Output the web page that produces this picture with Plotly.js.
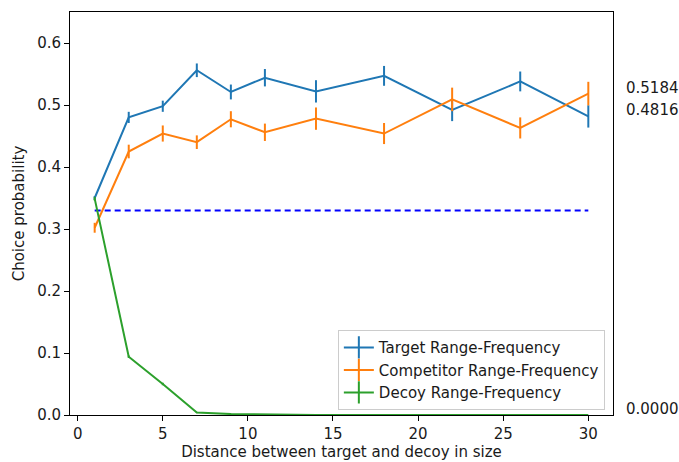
<!DOCTYPE html>
<html>
<head>
<meta charset="utf-8">
<script src="https://cdn.plot.ly/plotly-3.0.1.min.js"></script>
<style>html,body{margin:0;padding:0;background:#fff}#chart{width:679px;height:462px}</style>
</head>
<body>
<div id="chart"></div>
<script>
const distances = [1, 3, 5, 7, 9, 11, 14, 18, 22, 26, 30];
const targetProb = [0.350, 0.480, 0.498, 0.556, 0.521, 0.544, 0.522, 0.547, 0.492, 0.538, 0.4816];
const targetErr = [0.003, 0.009, 0.009, 0.011, 0.012, 0.014, 0.018, 0.016, 0.018, 0.016, 0.018];
const competitorProb = [0.302, 0.425, 0.454, 0.440, 0.477, 0.456, 0.478, 0.454, 0.509, 0.463, 0.5184];
const competitorErr = [0.008, 0.011, 0.013, 0.011, 0.013, 0.014, 0.018, 0.017, 0.019, 0.017, 0.019];
const decoyProb = [0.349, 0.094, 0.050, 0.004, 0.0015, 0.0005, 0.0002, 0.0001, 0.0, 0.0, 0.0];
const decoyErr = [0.003, 0.002, 0.002, 0.001, 0.0005, 0.0002, 0.0001, 0, 0, 0, 0];
const chanceLevel = 0.33;
const seriesNames = ["Target Range-Frequency", "Competitor Range-Frequency", "Decoy Range-Frequency"];
const endLabels = ["0.5184", "0.4816", "0.0000"];
const endValues = [0.5184, 0.4816, 0.0];
const labelX = 32;

const colors = ["#1f77b4", "#ff7f0e", "#2ca02c"];
const probs = [targetProb, competitorProb, decoyProb];
const errs = [targetErr, competitorErr, decoyErr];
const xRange = [-0.45, 31.45];

const traces = [];
traces.push({
  x: [distances[0], distances[distances.length - 1]],
  y: [chanceLevel, chanceLevel],
  mode: "lines",
  line: {color: "#0000ff", width: 2, dash: "6px,4px"},
  showlegend: false,
  hoverinfo: "skip"
});
for (let i = 0; i < 3; i++) {
  traces.push({
    x: distances, y: probs[i], mode: "lines",
    line: {color: colors[i], width: 2},
    error_y: {type: "data", array: errs[i], visible: true, color: colors[i], thickness: 2, width: 0},
    showlegend: false
  });
}
for (let i = 0; i < 3; i++) {
  traces.push({
    x: [null], y: [null], mode: "lines+markers", name: seriesNames[i],
    line: {color: colors[i], width: 2},
    marker: {symbol: "line-ns-open", size: 16, color: colors[i], line: {color: colors[i], width: 2}},
    showlegend: true
  });
}

const font = {family: "DejaVu Sans, sans-serif", size: 15, color: "#1a1a1a"};
const annotations = endLabels.map((t, i) => ({
  x: (labelX - xRange[0]) / (xRange[1] - xRange[0]), y: endValues[i], xref: "paper", yref: "y", text: t, showarrow: false,
  xanchor: "left", yanchor: "bottom", yshift: -5, xshift: 2, font: font
}));

const layout = {
  width: 679, height: 462,
  margin: {l: 70, r: 66, t: 12, b: 47},
  paper_bgcolor: "#fff", plot_bgcolor: "#fff",
  font: font,
  showlegend: true,
  xaxis: {
    range: xRange, tickvals: [0, 5, 10, 15, 20, 25, 30],
    ticks: "outside", ticklen: 5, tickwidth: 1, tickcolor: "#000",
    showline: true, linecolor: "#000", linewidth: 1, mirror: true,
    showgrid: false, zeroline: false,
    title: {text: "Distance between target and decoy in size", font: font, standoff: 4}
  },
  yaxis: {
    range: [0, 0.65], tickvals: [0, 0.1, 0.2, 0.3, 0.4, 0.5, 0.6], tickformat: ".1f",
    ticks: "outside", ticklen: 5, tickwidth: 1, tickcolor: "#000",
    showline: true, linecolor: "#000", linewidth: 1, mirror: true,
    showgrid: false, zeroline: false,
    title: {text: "Choice probability", font: font, standoff: 8}
  },
  legend: {
    x: 0.985, y: 0.012, xanchor: "right", yanchor: "bottom",
    bgcolor: "rgba(255,255,255,0.8)", bordercolor: "#cccccc", borderwidth: 1,
    font: font, tracegroupgap: 0
  },
  annotations: annotations
};

Plotly.newPlot("chart", traces, layout, {displayModeBar: false, staticPlot: true});
</script>
</body>
</html>
